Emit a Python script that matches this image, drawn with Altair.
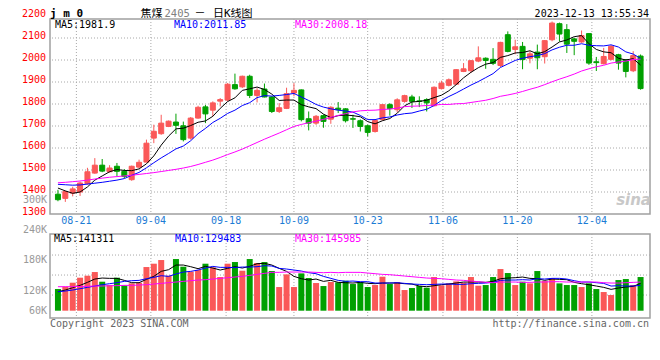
import altair as alt
import pandas as pd

# ---------------- data ----------------
idx = list(range(80))
opens = [1390, 1371, 1395, 1400, 1438, 1486, 1522, 1492, 1517, 1494,
         1456, 1513, 1536, 1645, 1665, 1698, 1718, 1701, 1645, 1736,
         1787, 1772, 1813, 1818, 1888, 1878, 1926, 1839, 1868, 1832,
         1766, 1780, 1850, 1864, 1733, 1713, 1747, 1731, 1781, 1778,
         1733, 1724, 1701, 1675, 1729, 1797, 1774, 1812, 1832, 1814,
         1820, 1792, 1870, 1885, 1890, 1948, 1951, 1995, 2008, 2003,
         1975, 2115, 2048, 2062, 2008, 2036, 2015, 2092, 2165, 2138,
         2096, 2082, 2120, 1992, 1983, 2003, 2024, 2001, 1951, 2018]
highs = [1410, 1406, 1424, 1447, 1510, 1554, 1550, 1522, 1532, 1504,
         1520, 1547, 1638, 1706, 1751, 1725, 1756, 1720, 1741, 1792,
         1796, 1812, 1827, 1895, 1938, 1929, 1933, 1872, 1893, 1835,
         1804, 1874, 1895, 1866, 1766, 1750, 1752, 1790, 1809, 1781,
         1751, 1730, 1706, 1730, 1800, 1804, 1826, 1842, 1842, 1835,
         1826, 1880, 1906, 1916, 1959, 1986, 2000, 2062, 2012, 2054,
         2083, 2130, 2092, 2082, 2040, 2070, 2090, 2175, 2170, 2163,
         2100, 2134, 2122, 2014, 2055, 2068, 2028, 2004, 2040, 2025]
lows = [1358, 1355, 1380, 1382, 1433, 1483, 1490, 1488, 1471, 1463,
        1451, 1510, 1535, 1622, 1660, 1695, 1664, 1630, 1638, 1733,
        1713, 1744, 1789, 1813, 1865, 1873, 1827, 1807, 1830, 1759,
        1759, 1777, 1835, 1721, 1680, 1705, 1692, 1710, 1759, 1716,
        1691, 1675, 1653, 1670, 1725, 1747, 1762, 1806, 1782, 1786,
        1766, 1789, 1866, 1880, 1886, 1945, 1941, 1990, 1960, 1977,
        1968, 2035, 2026, 1958, 1985, 1958, 1984, 2085, 2084, 2032,
        2022, 2078, 1978, 1950, 1980, 1998, 1956, 1921, 1945, 1865]
closes = [1365, 1402, 1414, 1441, 1492, 1522, 1495, 1509, 1494, 1471,
          1517, 1535, 1622, 1676, 1713, 1722, 1703, 1638, 1736, 1785,
          1755, 1805, 1820, 1890, 1869, 1926, 1839, 1862, 1832, 1766,
          1783, 1847, 1862, 1729, 1713, 1744, 1721, 1785, 1774, 1724,
          1731, 1698, 1671, 1725, 1797, 1779, 1819, 1838, 1812, 1812,
          1805, 1876, 1895, 1910, 1956, 1960, 1997, 2010, 1998, 1985,
          2080, 2039, 2060, 2002, 2028, 2010, 2088, 2168, 2118, 2072,
          2085, 2111, 1986, 1988, 2016, 2062, 1986, 1948, 2020, 1870]
ma5 = [1418, 1405, 1394, 1400, 1423, 1454, 1473, 1492, 1502, 1498,
       1497, 1505, 1528, 1564, 1613, 1654, 1687, 1690, 1702, 1717,
       1723, 1744, 1780, 1811, 1828, 1862, 1869, 1877, 1866, 1845,
       1816, 1818, 1818, 1797, 1787, 1779, 1754, 1738, 1747, 1750,
       1747, 1742, 1720, 1710, 1724, 1734, 1758, 1792, 1809, 1812,
       1817, 1829, 1840, 1860, 1888, 1919, 1944, 1965, 1981, 1988,
       2012, 2020, 2032, 2034, 2042, 2028, 2038, 2059, 2082, 2091,
       2106, 2111, 2074, 2048, 2037, 2033, 2008, 2000, 2006, 1977]
ma10 = [1435, 1433, 1431, 1432, 1436, 1440, 1444, 1449, 1454, 1461,
        1476, 1489, 1510, 1533, 1555, 1575, 1596, 1609, 1633, 1665,
        1689, 1716, 1735, 1757, 1772, 1793, 1806, 1829, 1838, 1836,
        1839, 1843, 1848, 1832, 1816, 1798, 1786, 1778, 1772, 1768,
        1763, 1748, 1729, 1729, 1737, 1741, 1750, 1756, 1759, 1768,
        1776, 1793, 1816, 1834, 1850, 1868, 1886, 1902, 1920, 1938,
        1966, 1982, 1998, 2008, 2015, 2020, 2029, 2046, 2058, 2067,
        2067, 2074, 2067, 2065, 2064, 2069, 2059, 2037, 2027, 2007]
ma30 = [1442, 1444, 1447, 1450, 1454, 1459, 1463, 1467, 1470, 1473,
        1476, 1480, 1484, 1488, 1493, 1498, 1503, 1509, 1516, 1525,
        1535, 1545, 1557, 1570, 1582, 1595, 1610, 1625, 1640, 1654,
        1668, 1683, 1698, 1707, 1715, 1722, 1730, 1739, 1748, 1756,
        1764, 1769, 1771, 1772, 1775, 1777, 1781, 1788, 1790, 1791,
        1793, 1795, 1798, 1798, 1801, 1802, 1807, 1812, 1817, 1825,
        1835, 1841, 1848, 1857, 1867, 1876, 1888, 1901, 1913, 1924,
        1936, 1950, 1960, 1969, 1976, 1986, 1991, 1995, 2002, 2004]

volumes = [125, 132, 144, 159, 165, 176, 147, 137, 159, 136,
           142, 144, 191, 201, 212, 165, 215, 192, 177, 182,
           201, 190, 161, 201, 206, 180, 215, 203, 206, 179,
           131, 169, 131, 172, 158, 143, 134, 146, 145, 150,
           140, 146, 131, 137, 162, 140, 146, 122, 128, 134,
           129, 161, 136, 142, 148, 144, 161, 135, 137, 161,
           185, 173, 137, 147, 142, 179, 149, 158, 142, 137,
           137, 131, 142, 125, 116, 107, 152, 155, 137, 161]
vma5 = [117, 122, 129, 136, 145, 155, 158, 157, 157, 151,
        144, 144, 154, 163, 178, 183, 197, 197, 192, 186,
        193, 188, 182, 187, 192, 188, 193, 201, 202, 197,
        187, 178, 163, 156, 152, 155, 148, 151, 145, 144,
        143, 145, 142, 141, 143, 143, 143, 141, 140, 134,
        132, 135, 138, 140, 143, 146, 146, 146, 145, 148,
        156, 158, 159, 161, 157, 156, 151, 155, 154, 153,
        145, 141, 138, 134, 130, 124, 128, 131, 133, 142]
vma10 = [117, 119, 122, 126, 130, 134, 138, 141, 144, 148,
         150, 151, 156, 160, 165, 163, 170, 176, 178, 182,
         188, 193, 190, 190, 189, 191, 191, 192, 195, 194,
         187, 185, 182, 179, 174, 171, 163, 157, 151, 148,
         149, 147, 147, 143, 143, 143, 144, 142, 140, 139,
         138, 139, 140, 140, 139, 139, 141, 142, 143, 145,
         151, 152, 152, 153, 152, 156, 155, 157, 157, 155,
         150, 146, 146, 144, 142, 134, 135, 134, 134, 136]
vma30 = [132, 132, 132, 133, 133, 134, 134, 135, 135, 136,
         136, 137, 138, 140, 142, 144, 146, 148, 150, 152,
         153, 155, 157, 159, 161, 163, 166, 169, 172, 175,
         175, 176, 176, 176, 176, 175, 174, 175, 174, 175,
         175, 175, 173, 171, 169, 168, 166, 164, 162, 160,
         158, 157, 156, 154, 152, 151, 149, 147, 145, 144,
         146, 146, 146, 145, 145, 146, 146, 147, 147, 146,
         146, 146, 146, 146, 144, 143, 143, 144, 145, 146]

date_ticks = [2.5, 12.6, 22.8, 32.0, 42.0, 52.2, 62.3, 72.4]
date_labels = ["08-21", "09-04", "09-18", "10-09", "10-23", "11-06", "11-20", "12-04"]
price_labels = [1300, 1400, 1500, 1600, 1700, 1800, 1900, 2000, 2100, 2200]
price_grid = [1400, 1500, 1600, 1700, 1800, 1900, 2000, 2100]
vol_grid = [107000, 167000, 227000]
vol_label_text = ["300K", "240K", "180K", "120K", "60K"]
vol_label_at = [391000, 302000, 212000, 120000, 60000]
vol_base = 60000

# ---------------- styling ----------------
RED = "#FA5858"
GREEN = "#00A000"
GRID = "#A8A8A8"
MONO = "DejaVu Sans Mono"
CJK = "DejaVu Sans Mono, Noto Sans CJK SC"
W, PH, VH = 600, 195, 84
TY = -5.5   # header line
LY = 6      # legend line inside the price panel

df = pd.DataFrame({
    "i": idx, "open": opens, "high": highs, "low": lows, "close": closes,
    "ma5": ma5, "ma10": ma10, "ma30": ma30,
    "vol": [v * 1000 for v in volumes],
    "vma5": [v * 1000 for v in vma5],
    "vma10": [v * 1000 for v in vma10],
    "vma30": [v * 1000 for v in vma30],
})
df["dir"] = ["up" if c >= o else "down" for o, c in zip(opens, closes)]

xs = alt.Scale(domain=[-0.4, 79.6], nice=False, zero=False)
yp = alt.Scale(domain=[1300, 1300 + PH / 0.22], nice=False, zero=False)
yv = alt.Scale(domain=[vol_base - 7.3 * 3000, vol_base + 76.7 * 3000], nice=False, zero=False)
col = alt.Scale(domain=["up", "down"], range=[RED, GREEN])

X = alt.X("i:Q", scale=xs, axis=None)
base = alt.Chart(df)


def txt(s, color, size=10, font=MONO, **kw):
    return alt.Chart(pd.DataFrame({"s": [s]})).mark_text(
        font=font, fontSize=size, color=color, baseline="middle", **kw
    ).encode(text="s:N")


# ---------------- price panel ----------------
p_hgrid = alt.Chart(pd.DataFrame({"p": price_grid})).mark_rule(
    color=GRID, strokeDash=[1, 2], strokeWidth=1
).encode(y=alt.Y("p:Q", scale=yp, axis=None))
p_vgrid = alt.Chart(pd.DataFrame({"t": date_ticks})).mark_rule(
    color=GRID, strokeDash=[1, 2], strokeWidth=1
).encode(x=alt.X("t:Q", scale=xs, axis=None))
wick = base.mark_rule(strokeWidth=1).encode(
    x=X,
    y=alt.Y("low:Q", scale=yp, axis=None),
    y2="high:Q",
    color=alt.Color("dir:N", scale=col, legend=None),
)
body = base.mark_bar(size=5, strokeWidth=1).encode(
    x=X,
    y=alt.Y("open:Q", scale=yp, axis=None),
    y2="close:Q",
    color=alt.Color("dir:N", scale=col, legend=None),
    stroke=alt.Stroke("dir:N", scale=col, legend=None),
)
l5 = base.mark_line(color="#000000", strokeWidth=1).encode(x=X, y=alt.Y("ma5:Q", scale=yp, axis=None))
l10 = base.mark_line(color="#0000FF", strokeWidth=1).encode(x=X, y=alt.Y("ma10:Q", scale=yp, axis=None))
l30 = base.mark_line(color="#FF00FF", strokeWidth=1).encode(x=X, y=alt.Y("ma30:Q", scale=yp, axis=None))
p_labels = alt.Chart(pd.DataFrame({"p": price_labels, "s": [str(v) for v in price_labels]})).mark_text(
    font=MONO, fontSize=10, color="#FF0000", align="right", baseline="middle", dy=-2
).encode(x=alt.value(-4), y=alt.Y("p:Q", scale=yp, axis=None), text="s:N")
d_labels = alt.Chart(pd.DataFrame({"t": date_ticks, "s": date_labels})).mark_text(
    font=MONO, fontSize=10, color="#1C7CD5", align="center", baseline="middle"
).encode(x=alt.X("t:Q", scale=xs, axis=None), y=alt.value(PH + 7), text="s:N")

title_jm = txt("j m 0", "#000000", size=11, fontWeight="bold", align="left").encode(x=alt.value(0), y=alt.value(TY))
title_a = txt("焦煤", "#000000", size=11, font=CJK, align="left").encode(x=alt.value(90.5), y=alt.value(TY))
title_b = txt("2405", "#808080", size=10.5, font=MONO, align="left").encode(x=alt.value(114.5), y=alt.value(TY))
title_c = txt("－", "#000000", size=11, font=CJK, align="center").encode(x=alt.value(150), y=alt.value(TY))
title_d = txt("日K线图", "#000000", size=11, font=CJK, align="left").encode(x=alt.value(163), y=alt.value(TY))
stamp = txt("2023-12-13 13:55:34", "#000000", align="right").encode(x=alt.value(599), y=alt.value(TY))
leg5 = txt("MA5:1981.9", "#000000", align="left").encode(x=alt.value(5), y=alt.value(LY))
leg10 = txt("MA10:2011.85", "#0000FF", align="left").encode(x=alt.value(124), y=alt.value(LY))
leg30 = txt("MA30:2008.18", "#FF00FF", align="left").encode(x=alt.value(245), y=alt.value(LY))
logo = txt("sina", "#C8C8C8", size=15, font="DejaVu Sans", fontWeight="bold", fontStyle="italic", align="right").encode(
    x=alt.value(601), y=alt.value(181))

price = alt.layer(
    p_hgrid, p_vgrid, wick, body, l5, l10, l30, p_labels, d_labels,
    title_jm, title_a, title_b, title_c, title_d, stamp, leg5, leg10, leg30, logo
).properties(width=W, height=PH)

# ---------------- volume panel ----------------
v_hgrid = alt.Chart(pd.DataFrame({"v": vol_grid})).mark_rule(
    color=GRID, strokeDash=[1, 2], strokeWidth=1
).encode(y=alt.Y("v:Q", scale=yv, axis=None))
v_vgrid = alt.Chart(pd.DataFrame({"t": date_ticks})).mark_rule(
    color=GRID, strokeDash=[1, 2], strokeWidth=1
).encode(x=alt.X("t:Q", scale=xs, axis=None))
vbars = base.mark_bar(size=6).encode(
    x=X,
    y=alt.Y("vol:Q", scale=yv, axis=None),
    y2=alt.datum(vol_base),
    color=alt.Color("dir:N", scale=col, legend=None),
)
vl5 = base.mark_line(color="#000000", strokeWidth=1).encode(x=X, y=alt.Y("vma5:Q", scale=yv, axis=None))
vl10 = base.mark_line(color="#0000FF", strokeWidth=1).encode(x=X, y=alt.Y("vma10:Q", scale=yv, axis=None))
vl30 = base.mark_line(color="#FF00FF", strokeWidth=1).encode(x=X, y=alt.Y("vma30:Q", scale=yv, axis=None))
v_labels = alt.Chart(pd.DataFrame({"v": vol_label_at, "s": vol_label_text})).mark_text(
    font=MONO, fontSize=10, color="#999999", align="right", baseline="middle"
).encode(x=alt.value(-3), y=alt.Y("v:Q", scale=yv, axis=None), text="s:N")
vleg5 = txt("MA5:141311", "#000000", align="left").encode(x=alt.value(4), y=alt.value(5))
vleg10 = txt("MA10:129483", "#0000FF", align="left").encode(x=alt.value(125), y=alt.value(5))
vleg30 = txt("MA30:145985", "#FF00FF", align="left").encode(x=alt.value(245), y=alt.value(5))
copy_t = txt("Copyright 2023 SINA.COM", "#666666", align="left").encode(x=alt.value(0), y=alt.value(VH + 6))
url_t = txt("http://finance.sina.com.cn", "#666666", align="right").encode(x=alt.value(599), y=alt.value(VH + 6))

volume = alt.layer(
    v_hgrid, v_vgrid, vbars, vl5, vl10, vl30, v_labels, vleg5, vleg10, vleg30, copy_t, url_t
).properties(width=W, height=VH)

chart = alt.vconcat(price, volume, spacing=20, bounds="flush").properties(
    autosize=alt.AutoSizeParams(type="none"),
    padding={"left": 42, "top": 11, "right": 2, "bottom": 330},
).configure_view(stroke="#A0A0A0", strokeWidth=1.5)

chart.save("out.html", embed_options={"renderer": "svg", "actions": False})
